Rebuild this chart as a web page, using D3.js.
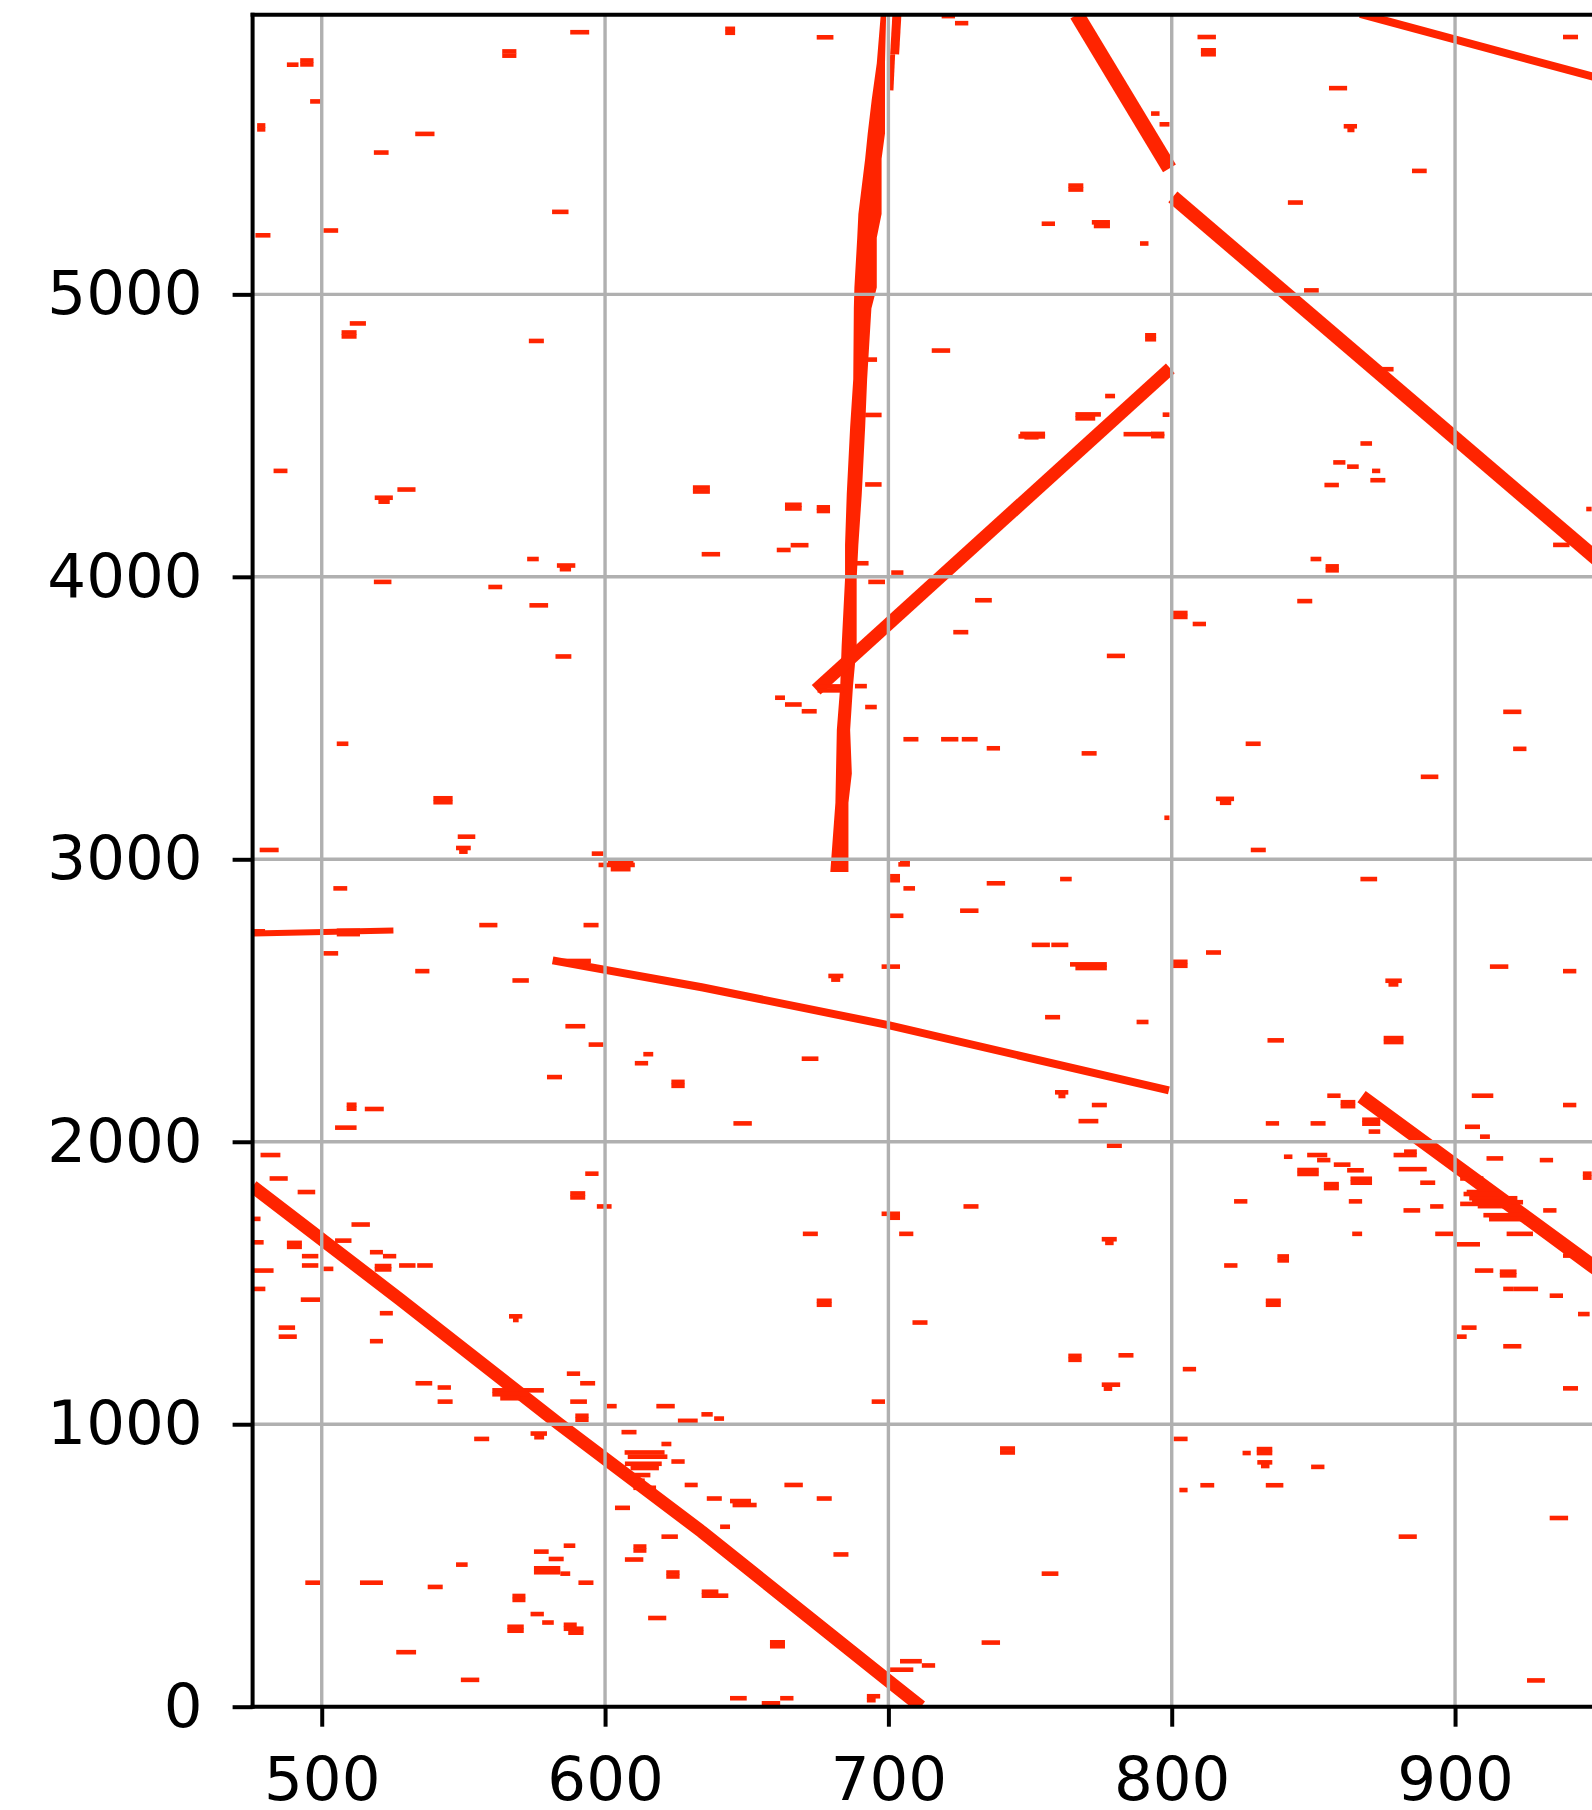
<!DOCTYPE html>
<html>
<head>
<meta charset="utf-8">
<script src="https://cdn.jsdelivr.net/npm/d3@7"></script>
<style>
  html, body { margin: 0; padding: 0; background: #ffffff; }
  svg { display: block; }
</style>
</head>
<body>
<script>
// ---- axis ticks and limits ----
const xTicks = [500, 600, 700, 800, 900];
const yTicks = [0, 1000, 2000, 3000, 4000, 5000];
const xDomain = [475.6, 960];
const yDomain = [0, 5990];

// ---- long alignments (polylines, query position x vs target position y) ----
const alignD1 = [[766.5, 5990], [799.2, 5446]];
const alignD2 = [[800.4, 5345], [960, 3977]];
const alignD3 = [[866.5, 5993], [960, 5740]];
const alignD4 = [[674.5, 3600], [799.5, 4738]];
const alignD5 = [[581.5, 2642], [634.1, 2547], [700, 2413], [799, 2182]];
const alignD6 = [[475.6, 2737], [525.3, 2748]];
const alignD7 = [[475.6, 1842], [527.5, 1443], [583.6, 1002], [634.1, 620], [698.8, 101], [711.5, 0]];
const alignD8 = [[867, 2160], [948.3, 1562], [960, 1475]];
const alignT1 = [[703, 5990], [702.2, 5850]];
const alignT2 = [[701.5, 5850], [700.9, 5722]];

// ---- near-vertical band, left/right edges along y ----
const bandY     = [5990, 5818, 5688, 5569, 5480, 5284, 5200, 5024, 4950, 4700, 4530, 4292, 4113, 3994, 3756, 3613, 3458, 3304, 3200, 2955];
const bandLeft  = [697.3, 695.9, 694.1, 692.7, 691.8, 689.4, 689.0, 688.0, 687.8, 687.6, 686.5, 685.3, 684.7, 684.7, 683.5, 683.0, 681.8, 681.5, 681.3, 679.5];
const bandRight = [699.2, 698.8, 698.8, 698.8, 697.6, 697.6, 695.9, 695.9, 694.0, 692.5, 691.8, 690.6, 689.4, 688.8, 688.8, 687.5, 686.5, 687.1, 685.9, 685.9];

// ---- short hits: [xStart, xEnd, y] ----
const shortHits = [
  [587.7,594.4,5928],[563.7,568.7,5860],[563.7,568.7,5845],[487.7,491.8,5813],
  [492.4,497.1,5828],[492.4,497.1,5814],[495.9,500,5683],[477.2,480.1,5598],[477.2,480.1,5584],
  [533,539.8,5568],[518.4,523.6,5502],[581.3,587.1,5292],[476.6,481.9,5209],[500.6,505.8,5226],
  [509.9,515.6,4897],[507,512.3,4865],[507,512.3,4851],[573.1,578.4,4835],
  [642.4,645.9,5940],[642.4,645.9,5926],[674.7,680.6,5910],[718.8,723.5,5985],[723.5,728.2,5960],
  [763.5,768.8,5385],[763.5,768.8,5371],[754.1,758.8,5250],[771.8,778.2,5255],[772.5,778.2,5242],
  [788.8,791.8,5180],[715.3,721.8,4801],[790.6,794.5,4855],[790.6,794.5,4841],[691.8,697.6,4573],
  [692,696,4769],[776.5,780,4640],[766,775,4575],[766,773,4561],[745.9,755.3,4497],
  [792.7,795.7,5640],[795.7,799.2,5602],[809.1,815.6,5911],[810.3,815.6,5864],[810.3,815.6,5850],
  [855.5,861.9,5730],[860.7,865.4,5595],[862,864.5,5582],[884.8,890,5437],[841,846.3,5325],
  [938.1,943.4,5911],[846.7,851.9,5014],[873.6,878.3,4735],[796.8,799.2,4574],[792.7,797.4,4498],
  [483,487.9,4375],[518.7,525.1,4280],[520,524,4266],[526.7,533.1,4309],[631,637,4316],[631,637,4302],
  [572.5,576.6,4063],[583,589.5,4040],[584,588,4027],[518.4,524.6,3982],[558.8,563.7,3964],
  [573.3,579.9,3899],[582.5,588.1,3718],[505.3,509.4,3409],[539.4,546.2,3216],[539.4,546.2,3202],
  [548,554.2,3080],[547.4,552.6,3040],[548.5,551.5,3027],[478.1,484.8,3033],[595.3,599.4,3020],
  [601,610,2995],[597.7,610.5,2980],[602,609,2965],
  [663.5,669.4,4255],[663.5,669.4,4242],[674.7,679.4,4246],[674.7,679.4,4233],[634.1,640.6,4080],
  [660.6,665.5,4095],[665.5,671.8,4112],[701,705.3,4015],[692.9,698.8,3982],[691.8,697.6,4327],
  [688.8,693,4048],[746.5,755.3,4506],[748,753,4494],[783,793,4505],[730.6,736.5,3917],
  [722.9,728.2,3804],[777.1,783.5,3720],[705.3,710.6,3425],[718.6,724.7,3425],[725.9,731.5,3425],
  [734.7,739.4,3393],[768.2,773.5,3375],[691.8,695.9,3539],[660,663.5,3572],[663.5,669.4,3548],
  [669.4,674.7,3524],[703.5,707.6,2982],[674.5,683.5,3612],[675,684,3598],[688.2,692.4,3613],
  [792.7,797.4,4506],[866.6,870.7,4472],[857,861.3,4405],[861.9,866,4390],[870.7,873.6,4375],
  [870.1,875.4,4342],[853.9,859,4325],[849,852.8,4063],[854.3,859,4037],[854.3,859,4023],
  [844.3,849.6,3914],[800.4,805.6,3872],[800.4,805.6,3858],[807.4,812.1,3833],[917,923.4,3522],
  [920.5,925.2,3391],[826.1,831.4,3409],[887.9,894.1,3292],[815.6,822,3214],[817,821,3200],
  [797.4,799.2,3147],[827.9,833.2,3033],[934.6,940.4,4113],[946.3,948.2,4240],
  [504.1,509,2897],[500.6,505.8,2667],[533,538,2604],[555.6,562,2767],[567.3,573.1,2571],
  [592.4,597.7,2767],[586,593,2409],[594.2,599.4,2344],[613.5,617,2310],[610.5,615.2,2278],
  [579.5,584.8,2229],[623.4,628.1,2212],[623.4,628.1,2198],[508.8,512.3,2131],[508.8,512.3,2117],
  [515.2,521.9,2116],[504.7,512.3,2050],[478.4,485.4,1953],[481.6,488,1870],[491.5,497.7,1822],
  [476,478.4,1727],[476,479.5,1644],[476,483,1544],[476,480.1,1479],[510.5,517,1707],
  [504.7,510.5,1650],[487.7,493,1642],[487.7,493,1628],[493,498.8,1595],[493,498.8,1562],
  [517,521.6,1609],[521.6,526.3,1595],[518.7,524.6,1560],[518.7,524.6,1548],[527.3,533.1,1562],
  [533.7,539.2,1562],[500.6,504.1,1550],[593,597.7,1887],[587.7,593,1817],[587.7,593,1803],
  [597.1,602.3,1771],[581.7,595,2640],[505.3,513.5,2747],[505.3,513.5,2735],[475.8,480,2745],
  [704.1,707.6,2995],[700.6,704.1,2940],[700.6,704.1,2926],[705.3,709.4,2897],[700.6,705.3,2800],
  [697.6,704.1,2620],[734.7,741.2,2915],[760.6,764.7,2930],[725.3,731.8,2818],[750.6,757,2697],
  [757.5,763.5,2697],[764.1,777.1,2628],[766,777.1,2615],[678.8,684.1,2587],[679.8,683,2574],
  [669.4,675.3,2294],[645.3,651.8,2065],[755.3,760.6,2441],[787.6,791.8,2424],[758.8,763.5,2175],
  [760,762.5,2162],[771.8,777.1,2130],[767.1,774.1,2073],[777.1,782.4,1986],[726.5,731.8,1771],
  [697.6,704.1,1745],[699.5,704.1,1731],[669.8,675.1,1674],[703.8,708.8,1674],[775.3,780.6,1655],
  [776.5,779.5,1642],
  [866.6,872.5,2930],[812.1,817.4,2670],[800.4,805.6,2637],[800.4,805.6,2623],[875.4,881.2,2570],
  [876.5,880,2557],[833.8,839.6,2359],[874.8,881.8,2367],[874.8,881.8,2353],[912.3,918.8,2620],
  [938.1,942.8,2604],[854.9,859.6,2163],[859.6,864.8,2140],[859.6,864.8,2126],[867.2,873.6,2078],
  [867.2,873.6,2064],[869.5,873.6,2036],[833.2,837.9,2065],[849,854.3,2065],[839.6,842.6,1947],
  [847.8,854.9,1953],[851.3,856,1935],[844.3,851.9,1900],[844.3,851.9,1886],[857.2,863.1,1919],
  [861.9,867.8,1899],[863.1,870.7,1869],[863.1,870.7,1855],[853.7,859,1850],[853.7,859,1836],
  [878.3,886.5,1953],[882,886.5,1965],[880.1,890,1903],[887.7,893,1855],[862.5,867.2,1789],
  [822,826.7,1789],[881.8,887.7,1757],[891.2,895.9,1771],[863.7,867.2,1674],[893,899.4,1674],
  [818.5,823.2,1562],[837.3,841.4,1594],[837.3,841.4,1580],[905.9,913.5,2163],[938.1,942.8,2130],
  [903.5,908.8,2053],[908.8,912.3,2018],[911.1,917,1941],[929.9,934.6,1935],[945.1,948.2,1887],
  [945.1,948.2,1873],[901.8,910,1870],[904.1,910,1822],[901.8,910,1780],[931.1,935.8,1757],
  [900.6,908.8,1637],[918.2,927.5,1674],[938.1,942.8,1597],[907,913.5,1544],[915.8,921.7,1540],
  [915.8,921.7,1527],[917,920.5,1479],[920.5,929.3,1479],[933.4,938.1,1455],
  [905,922,1800],[906,924,1786],[908,920,1772],[903,916,1815],[910,926,1740],[912,928,1726],
  [943.4,947.5,1390],[902.3,907.6,1342],[900.6,904.1,1310],[917,923.4,1276],[938.1,943.4,1127],
  [833.2,838.5,1437],[833.2,838.5,1423],[803.9,808.6,1195],[800.7,805.6,948],[825,827.9,898],
  [830,835.5,912],[830,835.5,898],[830.2,835.5,865],[831.5,834.5,852],[849.2,853.9,849],
  [810.1,815,784],[802.7,805.6,767],[833.2,839.4,784],[880.1,886.5,602],[933.4,939.9,668],
  [925.4,931.7,93],
  [492.6,499.4,1441],[484.8,490.6,1342],[484.8,491.2,1310],[520.5,525.1,1393],[517,521.6,1294],
  [566.1,570.8,1382],[567.5,569.5,1369],[533.1,539,1145],[540.9,545.6,1130],[540.9,546.2,1080],
  [560.2,578.4,1120],[560.2,573,1106],[563,570,1092],[586.5,591.2,1179],[591.2,596.5,1145],
  [587.7,593.6,1080],[589.5,594.2,1030],[589.5,594.2,1016],[600.6,604.1,1064],[618.1,624.6,1064],
  [625.7,632.7,1012],[573.7,579.5,967],[575,578.5,954],[553.8,559.1,948],[605.8,611.1,972],
  [619.9,623.4,930],[623.4,628.1,868],[628.1,632.7,785],[603.5,608.8,704],
  [606.9,621,900],[608,622,885],[607,620,860],[609,619,845],[606,616,820],[608,614,800],[610,618,775],
  [619.9,625.7,602],[610,614.6,567],[610,614.6,553],[607,613.5,521],[621.6,626.3,475],
  [621.6,626.3,461],[574.9,580.1,549],[580.1,585.4,523],[574.9,584.2,490],[574.9,584.2,476],
  [584.2,587.7,471],[585.4,589.5,570],[590.6,595.9,439],[547.4,551.5,503],[494.2,499.4,439],
  [513.5,521.6,439],[537.4,542.7,424],[567.3,571.9,392],[567.3,571.9,378],[573.7,578.4,328],
  [577.8,581.9,298],[565.5,571.3,283],[565.5,571.3,269],[585.4,590,290],[585.4,592.4,276],
  [587,592.4,262],[615.2,621.6,314],[526.3,533.3,193],[549.1,555.6,95],
  [674.7,680,1437],[674.7,680,1423],[708.5,713.8,1360],[763.5,768.2,1242],[763.5,768.2,1228],
  [781.2,786.5,1244],[775.3,781.8,1140],[776,779,1126],[694.1,698.8,1080],[634,638,1035],
  [638.5,642,1020],[739.4,744.7,914],[739.4,744.7,900],[663.3,669.8,785],[674.7,680,737],
  [635.9,641.2,737],[644.1,651.5,728],[645,653.5,714],[640.6,644.1,637],[680.6,685.9,539],
  [634.1,640,407],[634.1,643.5,393],[754.1,760,471],[658.2,663.5,228],[658.2,663.5,214],
  [732.9,739.4,227],[704.1,711.8,161],[700.6,708.8,131],[711.8,716.5,146],[692.4,697.1,37],
  [692.4,695.5,23],[644.1,650,30],[655.3,661.8,12],[661.8,666.5,30]
];

// ---- layout ----
const W = 1592, H = 1810;
const plot = { left: 252.6, top: 14.7, bottom: 1706.7 };
const pxPerUnitX = 2.8333;
const plotRight = plot.left + (xDomain[1] - xDomain[0]) * pxPerUnitX;

const x = d3.scaleLinear().domain(xDomain).range([plot.left, plotRight]);
const y = d3.scaleLinear().domain(yDomain).range([plot.bottom, plot.top]);

const RED = "#ff2400";
const GRID = "#b0b0b0";

const svg = d3.select("body").append("svg")
  .attr("width", W).attr("height", H)
  .attr("viewBox", `0 0 ${W} ${H}`);

svg.append("rect").attr("width", W).attr("height", H).attr("fill", "#ffffff");

svg.append("defs").append("clipPath").attr("id", "plotClip")
  .append("rect")
  .attr("x", plot.left).attr("y", plot.top)
  .attr("width", plotRight - plot.left).attr("height", plot.bottom - plot.top);

const marks = svg.append("g").attr("clip-path", "url(#plotClip)");

// near-vertical band
const bandData = bandY.map((v, i) => ({ y: v, l: bandLeft[i], r: bandRight[i] }));
marks.append("path")
  .datum(bandData)
  .attr("fill", RED)
  .attr("d", d3.area().y(d => y(d.y)).x0(d => x(d.l)).x1(d => x(d.r)));

// long alignments
const lineGen = d3.line().x(d => x(d[0])).y(d => y(d[1]));
const alignments = [
  { pts: alignD1, w: 15 }, { pts: alignD2, w: 14 }, { pts: alignD3, w: 8 },
  { pts: alignD4, w: 13 }, { pts: alignD5, w: 8 }, { pts: alignD6, w: 6 },
  { pts: alignD7, w: 13 }, { pts: alignD8, w: 14 }, { pts: alignT1, w: 9 },
  { pts: alignT2, w: 5 }
];
marks.selectAll("path.aln").data(alignments).enter().append("path")
  .attr("class", "aln")
  .attr("d", d => lineGen(d.pts))
  .attr("fill", "none")
  .attr("stroke", RED)
  .attr("stroke-width", d => d.w)
  .attr("stroke-linejoin", "round")
  .attr("stroke-linecap", "butt");

// short hits
const hitH = 4.6;
marks.selectAll("rect.hit").data(shortHits).enter().append("rect")
  .attr("class", "hit")
  .attr("x", d => x(d[0]))
  .attr("y", d => y(d[2]) - hitH / 2)
  .attr("width", d => Math.max(2, x(d[1]) - x(d[0])))
  .attr("height", hitH)
  .attr("fill", RED);

// grid (drawn above the dot image)
const grid = svg.append("g").attr("clip-path", "url(#plotClip)");
grid.selectAll("line.gx").data(xTicks).enter().append("line")
  .attr("x1", d => x(d)).attr("x2", d => x(d))
  .attr("y1", plot.top).attr("y2", plot.bottom)
  .attr("stroke", GRID).attr("stroke-width", 3.4);
grid.selectAll("line.gy").data(yTicks).enter().append("line")
  .attr("y1", d => y(d)).attr("y2", d => y(d))
  .attr("x1", plot.left).attr("x2", plotRight)
  .attr("stroke", GRID).attr("stroke-width", 3.4);

// axes
const tickLen = 20;
const xAxis = d3.axisBottom(x).tickValues(xTicks).tickFormat(d3.format("d"))
  .tickSize(tickLen).tickPadding(30);
const yAxis = d3.axisLeft(y).tickValues(yTicks).tickFormat(d3.format("d"))
  .tickSize(tickLen).tickPadding(30);

const gx = svg.append("g").attr("transform", `translate(0,${plot.bottom})`).call(xAxis);
const gy = svg.append("g").attr("transform", `translate(${plot.left},0)`).call(yAxis);

[gx, gy].forEach(g => {
  g.select(".domain").remove();
  g.selectAll(".tick line").attr("stroke", "#000").attr("stroke-width", 4);
  g.selectAll(".tick text")
    .attr("fill", "#000")
    .style("font-family", "'DejaVu Sans', sans-serif")
    .style("font-size", "61px");
});

// spines
const spines = svg.append("g").attr("stroke", "#000").attr("stroke-width", 4).attr("fill", "none");
spines.append("line").attr("x1", plot.left).attr("x2", plot.left).attr("y1", plot.top - 2).attr("y2", plot.bottom + 2);
spines.append("line").attr("x1", plot.left - 2).attr("x2", plotRight).attr("y1", plot.top).attr("y2", plot.top);
spines.append("line").attr("x1", plot.left - 2).attr("x2", plotRight).attr("y1", plot.bottom).attr("y2", plot.bottom);
</script>
</body>
</html>
